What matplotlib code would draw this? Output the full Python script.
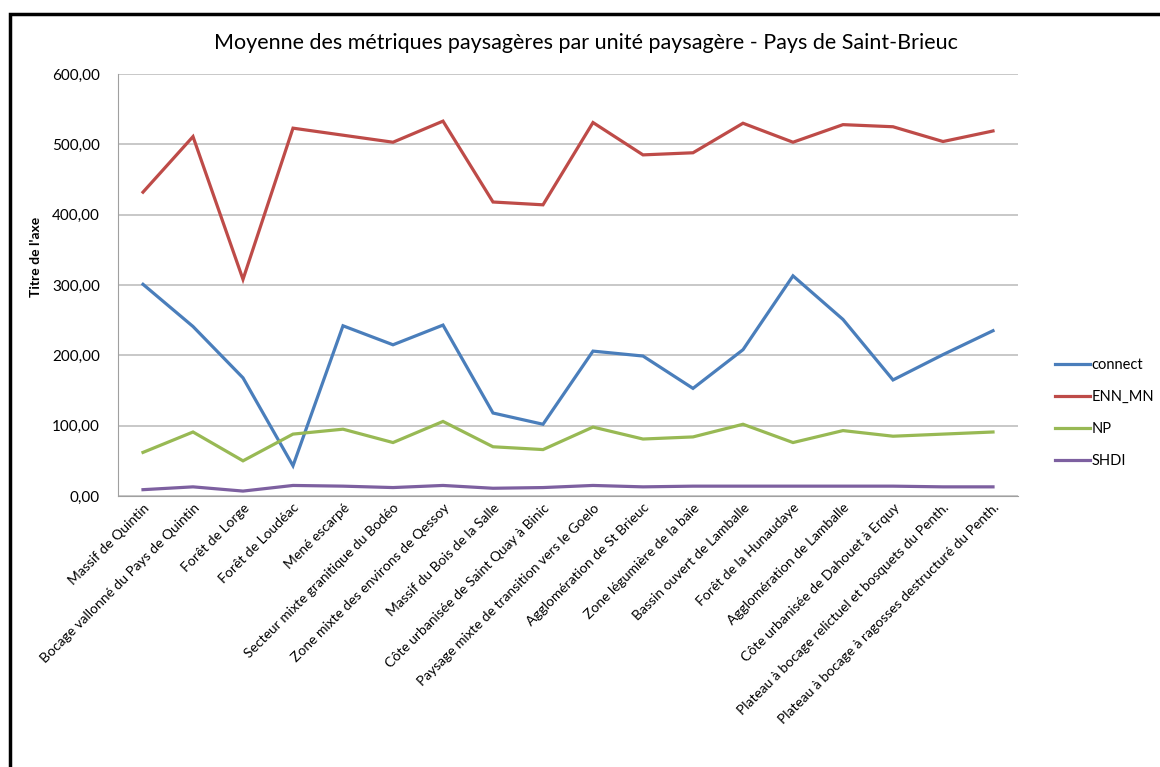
import matplotlib
matplotlib.use("Agg")
import matplotlib.pyplot as plt
from matplotlib.patches import Rectangle
from matplotlib.ticker import FuncFormatter

plt.rcParams['font.family'] = ['Lato', 'DejaVu Sans']

unites = [
    "Massif de Quintin",
    "Bocage vallonné du Pays de Quintin",
    "Forêt de Lorge",
    "Forêt de Loudéac",
    "Mené escarpé",
    "Secteur mixte granitique du Bodéo",
    "Zone mixte des environs de Qessoy",
    "Massif du Bois de la Salle",
    "Côte urbanisée de Saint Quay à Binic",
    "Paysage mixte de transition vers le Goelo",
    "Agglomération de St Brieuc",
    "Zone légumière de la baie",
    "Bassin ouvert de Lamballe",
    "Forêt de la Hunaudaye",
    "Agglomération de Lamballe",
    "Côte urbanisée de Dahouet à Erquy",
    "Plateau à bocage relictuel et bosquets du Penth.",
    "Plateau à bocage à ragosses destructuré du Penth.",
]

connect = [301, 241, 168, 43, 242, 215, 243, 118, 102, 206, 199, 153, 208, 313, 251, 165, 201, 235]
enn_mn = [432, 511, 308, 523, 513, 503, 533, 418, 414, 531, 485, 488, 530, 503, 528, 525, 504, 519]
np_vals = [62, 91, 50, 88, 95, 76, 106, 70, 66, 98, 81, 84, 102, 76, 93, 85, 88, 91]
shdi = [9, 13, 7, 15, 14, 12, 15, 11, 12, 15, 13, 14, 14, 14, 14, 14, 13, 13]

series = [
    ("connect", connect, "#4A7EBB"),
    ("ENN_MN", enn_mn, "#BE4B48"),
    ("NP", np_vals, "#98B954"),
    ("SHDI", shdi, "#7D60A0"),
]

fig = plt.figure(figsize=(11.6, 7.67), dpi=100)
ax = fig.add_axes([118 / 1160, 1 - 496 / 767, 900 / 1160, 422 / 767])

x = list(range(len(unites)))
for name, vals, col in series:
    ax.plot(x, vals, color=col, lw=2.3, label=name, solid_joinstyle='miter')

ax.set_xlim(-0.5, len(unites) - 0.5)
ax.set_ylim(0, 600)
ax.set_yticks(range(0, 601, 100))
ax.yaxis.set_major_formatter(FuncFormatter(lambda v, p: f"{v:.2f}".replace(".", ",")))
ax.grid(axis='y', color='#BFBFBF', lw=1.2)
ax.set_axisbelow(True)
for s in ['top', 'right']:
    ax.spines[s].set_visible(False)
for s in ['left', 'bottom']:
    ax.spines[s].set_color('#A0A0A0')
ax.tick_params(axis='y', length=0, pad=13, labelsize=11)
ax.tick_params(axis='x', length=0, pad=4, labelsize=10)
ax.set_xticks(x)
ax.set_xticklabels(unites, rotation=45, ha='right', rotation_mode='anchor')

ax.set_ylabel("Titre de l'axe", fontsize=10, fontweight='bold')
ax.yaxis.set_label_coords(-0.084, 0.566)
fig.text(586 / 1160, 1 - 43 / 767, "Moyenne des métriques paysagères par unité paysagère - Pays de Saint-Brieuc",
         ha='center', va='center', fontsize=15.5)

fig.legend(*ax.get_legend_handles_labels(), loc='center left',
           bbox_to_anchor=(1055 / 1160, 1 - 413 / 767), frameon=False, fontsize=10.5,
           handlelength=2.4, handletextpad=0.1, labelspacing=1.25,
           borderpad=0, borderaxespad=0)

# cadre noir (bord droit et bas hors de l'image)
fig.patches.append(Rectangle((9.5 / 1160, -0.05), 1.1, 1.05 - 13.5 / 767,
                             transform=fig.transFigure, fill=False, ec='black', lw=2.5))

fig.savefig("out.png", dpi=100)
